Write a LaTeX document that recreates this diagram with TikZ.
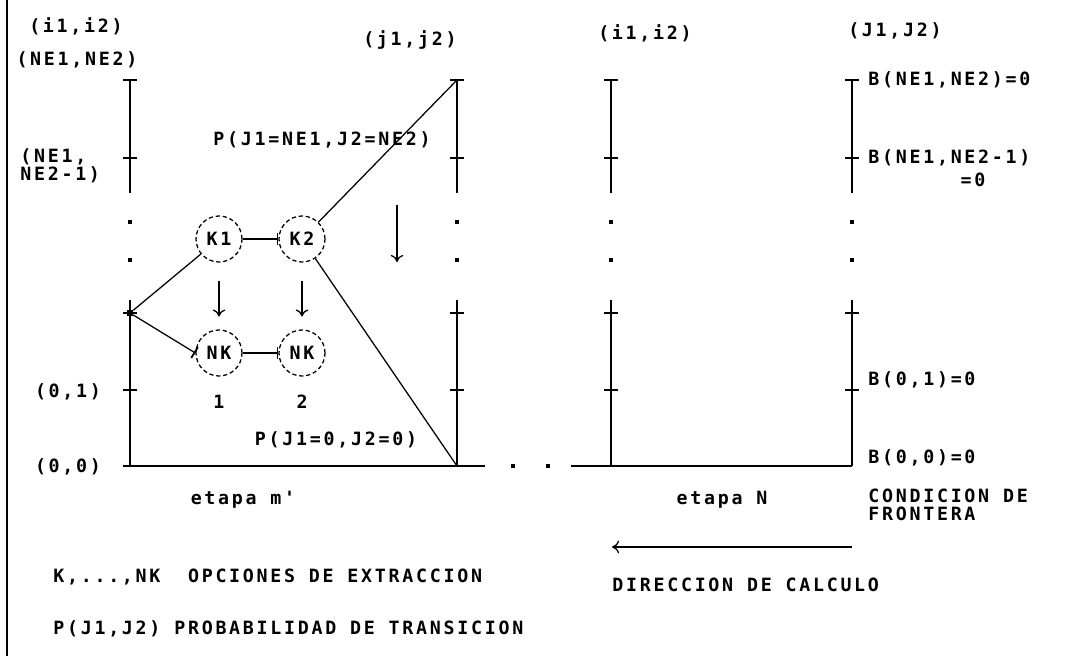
\documentclass[tikz,border=0pt]{standalone}
\usepackage{fontspec}
\newfontfamily\dotfont[LetterSpace=15]{DejaVu Sans Mono}
\usetikzlibrary{arrows.meta, positioning}

\begin{document}
\begin{tikzpicture}[
    x=0.025cm, y=-0.025cm,
    lbl/.style={font=\dotfont\bfseries\fontsize{13}{13}\selectfont, inner sep=0pt, align=left},
    axis/.style={line width=1.3pt},
    link/.style={line width=0.9pt},
    opt/.style={draw, circle, densely dashed, line width=0.9pt, minimum size=1.15cm,
      inner sep=0pt, font=\dotfont\bfseries\fontsize{13}{13}\selectfont},
    dotsq/.style={fill, rectangle, minimum size=0.1cm, inner sep=0pt},
    arrow/.style={line width=0.9pt, -{To[length=5pt,width=9pt]}},
    bararrow/.style={line width=0.9pt, -{Bar[width=9pt,line width=1.3pt]}}
]
\useasboundingbox (0,0) rectangle (1067,656);

% Frame edge
\coordinate (ftop) at (7,0);
\coordinate (fbot) at (7,656);
\draw[axis] (ftop) -- (fbot);

% Axis of stage m'
\coordinate (a1top) at (130,80);
\coordinate (a1brk) at (130,193);
\coordinate (a1res) at (130,300);
\coordinate (a1bot) at (130,466);
\draw[axis] (a1top) -- (a1brk);
\draw[axis] (a1res) -- (a1bot);
\draw[axis] (a1top) ++(-7,0) -- ++(14,0);
\draw[axis] (130,158) ++(-7,0) -- ++(14,0);
\draw[axis] (130,390) ++(-7,0) -- ++(14,0);
\node[dotsq] (a1d1) at (130,222) {};
\node[dotsq] (a1d2) at (130,260) {};
\node[dotsq, minimum size=0.15cm] (m1) at (130,313) {};
\draw[axis] (m1) ++(-7,0) -- ++(14,0);

% Axis of stage m'+1
\coordinate (a2top) at (457,80);
\coordinate (a2brk) at (457,193);
\coordinate (a2res) at (457,300);
\coordinate (a2bot) at (457,466);
\draw[axis] (a2top) -- (a2brk);
\draw[axis] (a2res) -- (a2bot);
\draw[axis] (a2top) ++(-7,0) -- ++(14,0);
\draw[axis] (457,158) ++(-7,0) -- ++(14,0);
\draw[axis] (457,313) ++(-7,0) -- ++(14,0);
\draw[axis] (457,390) ++(-7,0) -- ++(14,0);
\node[dotsq] (a2d1) at (457,222) {};
\node[dotsq] (a2d2) at (457,260) {};

% Axis of stage N
\coordinate (a3top) at (611,80);
\coordinate (a3brk) at (611,193);
\coordinate (a3res) at (611,300);
\coordinate (a3bot) at (611,466);
\draw[axis] (a3top) -- (a3brk);
\draw[axis] (a3res) -- (a3bot);
\draw[axis] (a3top) ++(-7,0) -- ++(14,0);
\draw[axis] (611,158) ++(-7,0) -- ++(14,0);
\draw[axis] (611,313) ++(-7,0) -- ++(14,0);
\draw[axis] (611,390) ++(-7,0) -- ++(14,0);
\node[dotsq] (a3d1) at (611,222) {};
\node[dotsq] (a3d2) at (611,260) {};

% Boundary axis
\coordinate (a4top) at (852,80);
\coordinate (a4brk) at (852,193);
\coordinate (a4res) at (852,300);
\coordinate (a4bot) at (852,466);
\draw[axis] (a4top) -- (a4brk);
\draw[axis] (a4res) -- (a4bot);
\draw[axis] (a4top) ++(-7,0) -- ++(14,0);
\draw[axis] (852,158) ++(-7,0) -- ++(14,0);
\draw[axis] (852,313) ++(-7,0) -- ++(14,0);
\draw[axis] (852,390) ++(-7,0) -- ++(14,0);
\node[dotsq] (a4d1) at (852,222) {};
\node[dotsq] (a4d2) at (852,260) {};

% Base line
\coordinate (b1L) at (123,466);
\coordinate (b1R) at (485,466);
\coordinate (b2L) at (571,466);
\draw[axis] (b1L) -- (b1R);
\draw[axis] (b2L) -- (a4bot);
\node[dotsq] (gap1) at (513,466) {};
\node[dotsq] (gap2) at (548,466) {};

% Extraction options
\node[opt] (k1) at (219,239) {K1};
\node[opt] (k2) at (302,239) {K2};
\node[opt] (nk1) at (219,353) {NK};
\node[opt] (nk2) at (302,353) {NK};
\node[lbl] (n1) at (219,402) {1};
\node[lbl] (n2) at (302,402) {2};

\draw[link] (m1) -- (k1);
\draw[bararrow] (m1) -- (nk1.west);
\draw[bararrow] (k1) -- (k2);
\draw[bararrow] (nk1) -- (nk2);
\draw[arrow, shorten <=0.45cm, shorten >=0.32cm] (k1) -- (nk1);
\draw[arrow, shorten <=0.45cm, shorten >=0.32cm] (k2) -- (nk2);
\draw[link] (k2) -- (a2top);
\draw[link] (k2) -- (a2bot);

% Transition arrow
\coordinate (bigA) at (397,205);
\coordinate (bigB) at (397,262);
\draw[arrow] (bigA) -- (bigB);

% State labels
\node[lbl] (i1i2a) at (76,26) {(i1,i2)};
\node[lbl] (nene) at (77,60) {(NE1,NE2)};
\node[lbl, anchor=west] (nene1) at (20,166) {(NE1,\\NE2-1)};
\node[lbl] (s01) at (68,392) {(0,1)};
\node[lbl] (s00) at (68,467) {(0,0)};
\node[lbl] (j1j2) at (410,40) {(j1,j2)};
\node[lbl] (i1i2b) at (645,33) {(i1,i2)};
\node[lbl] (J1J2) at (895,31) {(J1,J2)};
\node[lbl] (ptop) at (322,140) {P(J1=NE1,J2=NE2)};
\node[lbl] (pbot) at (336,440) {P(J1=0,J2=0)};

% Boundary values
\node[lbl, anchor=west] (bnn) at (868,80) {B(NE1,NE2)=0};
\node[lbl, anchor=west] (bnn1) at (868,158) {B(NE1,NE2-1)};
\node[lbl] (bnn1z) at (973,180) {=0};
\node[lbl, anchor=west] (b01) at (868,380) {B(0,1)=0};
\node[lbl, anchor=west] (b00) at (868,458) {B(0,0)=0};

% Stage names
\node[lbl] (etm) at (243,500) {etapa m'};
\node[lbl] (etn) at (722,500) {etapa N};
\node[lbl, anchor=west] (cond) at (868,505) {CONDICION DE\\FRONTERA};

% Direction of computation
\coordinate (dirA) at (852,547);
\coordinate (dirB) at (612,547);
\draw[arrow] (dirA) -- (dirB);
\node[lbl, anchor=west] (dirlbl) at (612,585) {DIRECCION DE CALCULO};

% Legend
\node[lbl, anchor=west] (leg1) at (53,577) {K,...,NK\ \ OPCIONES DE EXTRACCION};
\node[lbl, anchor=west] (leg2) at (53,629) {P(J1,J2) PROBABILIDAD DE TRANSICION};

\end{tikzpicture}
\end{document}
